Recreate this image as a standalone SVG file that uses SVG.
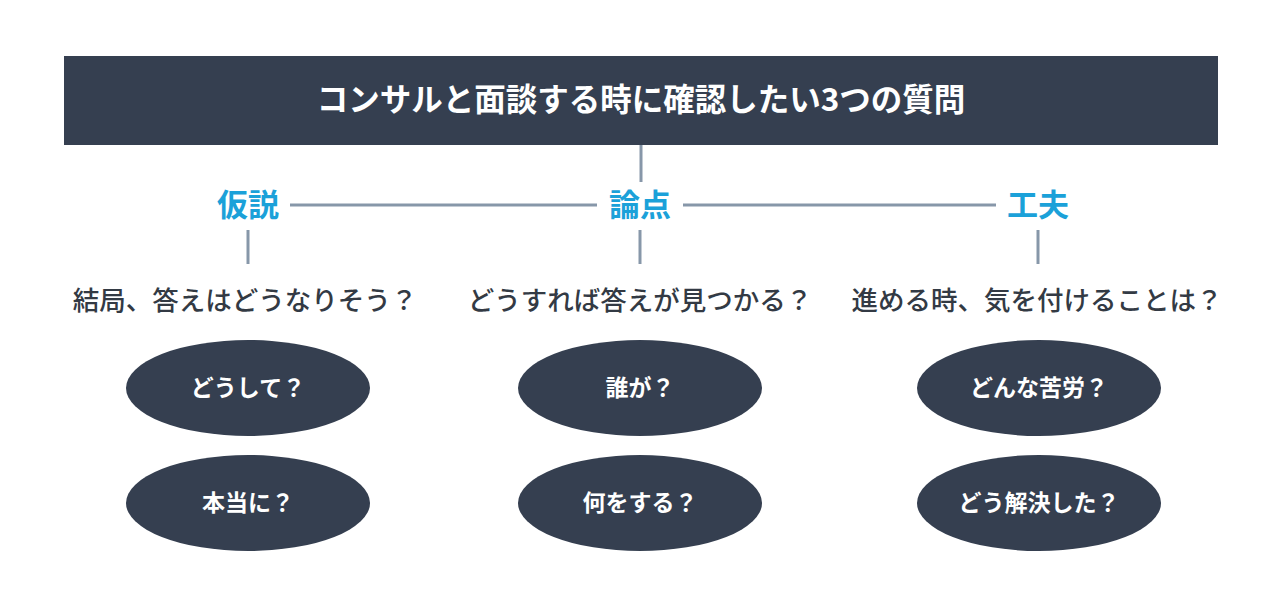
<svg xmlns="http://www.w3.org/2000/svg" width="1271" height="616" viewBox="0 0 1271 616">
<style>
.t{font-family:"Noto Sans CJK JP","Noto Sans",sans-serif;text-anchor:middle}
.title{font-size:31.5px;font-weight:700;fill:#ffffff}
.cat{font-size:31px;font-weight:700;fill:#1ba1d9}
.q{font-size:26.5px;font-weight:500;fill:#333a44}
.e{fill:#353f50}
.et{font-size:23px;font-weight:700;fill:#ffffff}
.ln{stroke:#8797a9;stroke-width:3;fill:none}
</style>
<rect width="1271" height="616" fill="#ffffff"/>
<g id="header">
<rect x="64" y="56" width="1154" height="89" fill="#353f50"/>
<text class="t title" x="641" y="111">コンサルと面談する時に確認したい3つの質問</text>
</g>
<g id="connectors">
<line class="ln" x1="641" y1="145" x2="641" y2="182"/>
<line class="ln" x1="290" y1="205" x2="597" y2="205"/>
<line class="ln" x1="683" y1="205" x2="996" y2="205"/>
<line class="ln" x1="248" y1="230" x2="248" y2="264"/>
<line class="ln" x1="640" y1="230" x2="640" y2="264"/>
<line class="ln" x1="1038" y1="230" x2="1038" y2="264"/>
</g>
<g id="cat-kasetsu"><text class="t cat" x="248" y="216">仮説</text></g>
<g id="cat-ronten"><text class="t cat" x="640" y="216">論点</text></g>
<g id="cat-kufu"><text class="t cat" x="1038" y="216">工夫</text></g>
<g id="q1"><text class="t q" x="245" y="310">結局、答えはどうなりそう？</text></g>
<g id="q2"><text class="t q" x="640" y="310">どうすれば答えが見つかる？</text></g>
<g id="q3"><text class="t q" x="1037" y="310">進める時、気を付けることは？</text></g>
<g id="e1"><ellipse class="e" cx="248" cy="388" rx="122" ry="48"/><text class="t et" x="248" y="396">どうして？</text></g>
<g id="e2"><ellipse class="e" cx="248" cy="503" rx="122" ry="48"/><text class="t et" x="248" y="511">本当に？</text></g>
<g id="e3"><ellipse class="e" cx="640" cy="388" rx="122" ry="48"/><text class="t et" x="640" y="396">誰が？</text></g>
<g id="e4"><ellipse class="e" cx="640" cy="503" rx="122" ry="48"/><text class="t et" x="640" y="511">何をする？</text></g>
<g id="e5"><ellipse class="e" cx="1039" cy="388" rx="122" ry="48"/><text class="t et" x="1039" y="396">どんな苦労？</text></g>
<g id="e6"><ellipse class="e" cx="1039" cy="503" rx="122" ry="48"/><text class="t et" x="1039" y="511">どう解決した？</text></g>
</svg>
